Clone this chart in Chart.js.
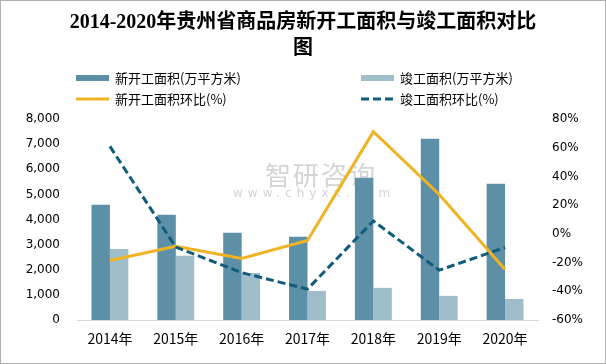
<!DOCTYPE html>
<html>
<head>
<meta charset="utf-8">
<script src="https://cdn.jsdelivr.net/npm/chart.js@4/dist/chart.umd.min.js"></script>
<style>
  html, body { margin: 0; padding: 0; background: #fff; }
  #wrap { width: 606px; height: 364px; position: relative; }
</style>
</head>
<body>
<div id="wrap"><canvas id="chart" width="606" height="364"></canvas></div>
<script>
// 数据
const years = ['2014年', '2015年', '2016年', '2017年', '2018年', '2019年', '2020年'];
const newStarts = [4590, 4190, 3470, 3310, 5660, 7210, 5420];      // 新开工面积(万平方米)
const completed = [2830, 2560, 1870, 1160, 1280, 960, 840];        // 竣工面积(万平方米)
const newGrowth = [-18.6, -8.7, -17.2, -4.6, 71.2, 27.4, -24.8];   // 新开工面积环比(%)
const doneGrowth = [60.9, -9.2, -27.0, -38.5, 9.0, -25.3, -9.5];   // 竣工面积环比(%)

const titleLines = ['2014-2020年贵州省商品房新开工面积与竣工面积对比', '图'];
const legendItems = [
    { text: '新开工面积(万平方米)', type: 'bar', color: '#5d8fa6' },
    { text: '竣工面积(万平方米)', type: 'bar', color: '#a0bdca' },
    { text: '新开工面积环比(%)', type: 'line', color: '#f0b323' },
    { text: '竣工面积环比(%)', type: 'dash', color: '#0f5c7c' }
];

const cjk = '"Noto Sans CJK SC", sans-serif';

// 标题、图例、水印和边框
const decorPlugin = {
    id: 'decor',
    beforeDraw(chart) {
        const ctx = chart.ctx;
        ctx.save();
        ctx.fillStyle = '#fff';
        ctx.fillRect(0, 0, chart.width, chart.height);
        // 水印
        ctx.fillStyle = '#d4d4d4';
        ctx.textAlign = 'left';
        ctx.textBaseline = 'middle';
        ctx.font = '26px ' + cjk;
        ctx.letterSpacing = '2px';
        ctx.fillText('智研咨询', 265, 175);
        ctx.font = '12px "DejaVu Sans", sans-serif';
        ctx.letterSpacing = '5px';
        ctx.fillText('www.chyxx.com', 233, 194);
        ctx.letterSpacing = '0px';
        ctx.restore();
    },
    afterDraw(chart) {
        const ctx = chart.ctx;
        ctx.save();
        // 标题
        ctx.fillStyle = '#000';
        ctx.textAlign = 'center';
        ctx.textBaseline = 'middle';
        ctx.font = 'bold 20px "Liberation Serif", ' + cjk;
        ctx.fillText(titleLines[0], 303, 23);
        ctx.fillText(titleLines[1], 303, 49);
        // 图例
        ctx.font = '13px ' + cjk;
        ctx.textAlign = 'left';
        const cols = [76, 361];
        const rows = [78, 99];
        legendItems.forEach((it, i) => {
            const x = cols[i % 2];
            const y = rows[Math.floor(i / 2)];
            ctx.fillStyle = it.color;
            ctx.strokeStyle = it.color;
            if (it.type === 'bar') {
                ctx.fillRect(x, y - 3, 33, 6);
            } else {
                ctx.lineWidth = 3;
                ctx.setLineDash(it.type === 'dash' ? [8, 4] : []);
                ctx.beginPath();
                ctx.moveTo(x, y);
                ctx.lineTo(x + 33, y);
                ctx.stroke();
                ctx.setLineDash([]);
            }
            ctx.fillStyle = '#000';
            ctx.fillText(it.text, x + 39, y);
        });
        // 边框
        ctx.strokeStyle = '#b0b0b0';
        ctx.lineWidth = 1;
        ctx.strokeRect(0.5, 0.5, chart.width - 1, chart.height - 1);
        ctx.restore();
    }
};

new Chart(document.getElementById('chart').getContext('2d'), {
    type: 'bar',
    data: {
        labels: years,
        datasets: [
            {
                type: 'line',
                label: '竣工面积环比(%)',
                data: doneGrowth,
                yAxisID: 'y1',
                borderColor: '#0f5c7c',
                borderWidth: 3,
                borderDash: [8, 4],
                pointRadius: 0,
                tension: 0,
                order: 0
            },
            {
                type: 'line',
                label: '新开工面积环比(%)',
                data: newGrowth,
                yAxisID: 'y1',
                borderColor: '#f0b323',
                borderWidth: 3,
                pointRadius: 0,
                tension: 0,
                order: 1
            },
            {
                label: '新开工面积(万平方米)',
                data: newStarts,
                yAxisID: 'y',
                backgroundColor: '#5d8fa6',
                categoryPercentage: 0.56,
                barPercentage: 1,
                order: 2
            },
            {
                label: '竣工面积(万平方米)',
                data: completed,
                yAxisID: 'y',
                backgroundColor: '#a0bdca',
                categoryPercentage: 0.56,
                barPercentage: 1,
                order: 2
            }
        ]
    },
    options: {
        responsive: false,
        animation: false,
        layout: { padding: { top: 119, left: 0, right: 0, bottom: 0 } },
        plugins: {
            legend: { display: false },
            title: { display: false },
            tooltip: { enabled: false }
        },
        scales: {
            x: {
                grid: { display: false, drawTicks: false },
                border: { display: true, color: '#d9d9d9', width: 1 },
                ticks: { color: '#000', padding: 10, font: { family: cjk, size: 14 } },
                afterFit: s => { s.height = 44; }
            },
            y: {
                position: 'left',
                min: 0,
                max: 8000,
                grid: { display: false, drawTicks: false },
                border: { display: false },
                ticks: {
                    stepSize: 1000,
                    color: '#000',
                    padding: 17,
                    font: { family: '"DejaVu Sans", sans-serif', size: 12 },
                    callback: v => v.toLocaleString('en-US')
                },
                afterFit: s => { s.width = 77; }
            },
            y1: {
                position: 'right',
                min: -60,
                max: 80,
                grid: { display: false, drawTicks: false },
                border: { display: false },
                ticks: {
                    stepSize: 20,
                    color: '#000',
                    padding: 14,
                    font: { family: '"DejaVu Sans", sans-serif', size: 12 },
                    callback: v => v + '%'
                },
                afterFit: s => { s.width = 68; }
            }
        }
    },
    plugins: [decorPlugin]
});
</script>
</body>
</html>
